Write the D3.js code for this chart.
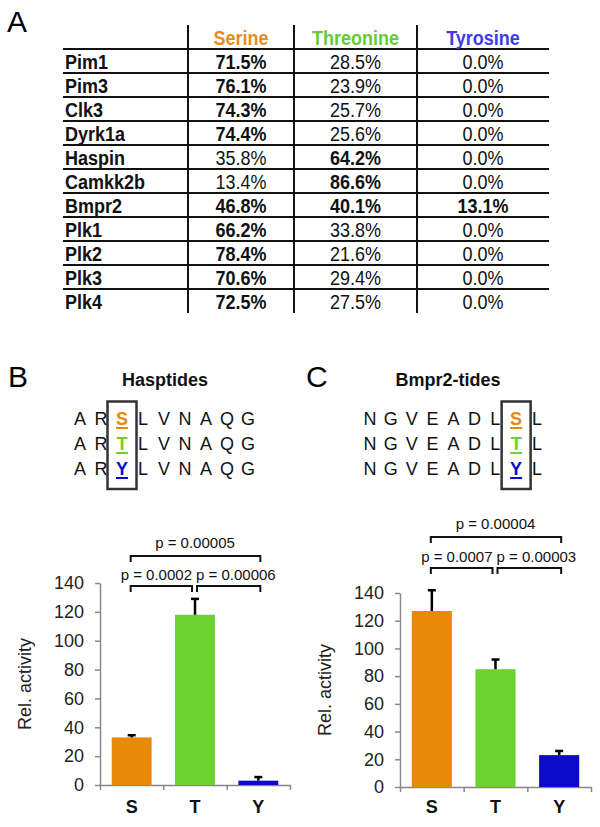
<!DOCTYPE html>
<html><head><meta charset="utf-8">
<script src="https://cdn.jsdelivr.net/npm/d3@7"></script>
<style>
body{margin:0;background:#fff;}
svg text{font-family:"Liberation Sans",Arial,sans-serif;}
</style></head>
<body>
<svg id="c" width="600" height="827"></svg>
<script>
// ---------- DATA ----------
const kinases = ["Pim1","Pim3","Clk3","Dyrk1a","Haspin","Camkk2b","Bmpr2","Plk1","Plk2","Plk3","Plk4"];
const residues = ["Serine","Threonine","Tyrosine"];
const serinePct    = [71.5,76.1,74.3,74.4,35.8,13.4,46.8,66.2,78.4,70.6,72.5];
const threoninePct = [28.5,23.9,25.7,25.6,64.2,86.6,40.1,33.8,21.6,29.4,27.5];
const tyrosinePct  = [0.0,0.0,0.0,0.0,0.0,0.0,13.1,0.0,0.0,0.0,0.0];
const serineBold    = [1,1,1,1,0,0,1,1,1,1,1];
const threonineBold = [0,0,0,0,1,1,1,0,0,0,0];
const tyrosineBold  = [0,0,0,0,0,0,1,0,0,0,0];

const peptideCats = ["S","T","Y"];
const hasptideSeq = ["A","R","*","L","V","N","A","Q","G"];
const bmpr2Seq    = ["N","G","V","E","A","D","L","*","L"];
const hasptideMean = [33, 118, 3];
const hasptideErr  = [34.5, 129, 5.5];
const bmpr2Mean = [127, 85, 23];
const bmpr2Err  = [142, 92, 26];
const yTicks = [0,20,40,60,80,100,120,140];
const hasptideP = ["p = 0.0002","p = 0.00006","p = 0.00005"];
const bmpr2P    = ["p = 0.0007","p = 0.00003","p = 0.00004"];

// ---------- STYLE ----------
const headerColors = ["#EA8A1E","#66CC33","#3C3CEA"];
const barColors = ["#E8890A","#6CD232","#0C0CC8"];
const F = '"Liberation Sans",Arial,sans-serif';

const svg = d3.select("#c");

// ---------- PANEL A: table ----------
const gA = svg.append("g");
gA.append("text").attr("x",7).attr("y",32).attr("font-size",30).text("A");
const rowY = d3.scaleBand().domain(kinases).range([49,313]);
const colX = d3.scaleOrdinal().domain(residues).range([241,355.5,483]);
const colData = [serinePct, threoninePct, tyrosinePct];
const colBold = [serineBold, threonineBold, tyrosineBold];

[188,294,417].forEach(x=>gA.append("line").attr("x1",x).attr("x2",x).attr("y1",25).attr("y2",313)
  .attr("stroke","#111").attr("stroke-width",2));
const hl = [49].concat(kinases.slice(1).map(k=>rowY(k)));
hl.forEach(y=>gA.append("line").attr("x1",63).attr("x2",549).attr("y1",y).attr("y2",y)
  .attr("stroke","#111").attr("stroke-width",2));
gA.selectAll("text.h").data(residues).join("text").attr("class","h")
  .attr("transform",d=>`translate(${colX(d)},45) scale(1,1.08)`).attr("text-anchor","middle")
  .attr("font-size",18).attr("font-weight","bold")
  .attr("fill",(d,i)=>headerColors[i]).text(d=>d);
gA.selectAll("text.k").data(kinases).join("text").attr("class","k")
  .attr("transform",d=>`translate(65,${rowY(d)+20}) scale(1,1.08)`).attr("font-size",18).attr("font-weight","bold")
  .attr("fill","#111").text(d=>d);
residues.forEach((r,ci)=>{
  gA.selectAll("text.v"+ci).data(kinases).join("text").attr("class","v"+ci)
    .attr("transform",d=>`translate(${colX(r)},${rowY(d)+20}) scale(1,1.08)`).attr("text-anchor","middle")
    .attr("font-size",18).attr("font-weight",(d,i)=>colBold[ci][i]?"bold":"normal")
    .attr("fill","#111").text((d,i)=>colData[ci][i].toFixed(1)+"%");
});

// ---------- PANELS B & C ----------
function panel(opt){
  const g = svg.append("g");
  g.append("text").attr("x",opt.labelX).attr("y",387).attr("font-size",30).text(opt.label);
  g.append("text").attr("x",opt.titleX).attr("y",386).attr("text-anchor","middle")
    .attr("font-size",18).attr("font-weight","bold").attr("fill","#111").text(opt.title);
  const sx = d3.scalePoint().domain(d3.range(opt.seq.length)).range(opt.seqRange);
  const rowsY = [425,450,475];
  const starIdx = opt.seq.indexOf("*");
  peptideCats.forEach((c,ri)=>{
    opt.seq.forEach((ch,i)=>{
      const isStar = ch==="*";
      g.append("text").attr("x",sx(i)).attr("y",rowsY[ri]).attr("text-anchor","middle")
        .attr("font-size",18).attr("font-weight",isStar?"bold":"normal")
        .attr("fill",isStar?barColors[ri]:"#111").text(isStar?c:ch);
      if(isStar){
        g.append("line").attr("x1",sx(i)-6).attr("x2",sx(i)+6)
          .attr("y1",rowsY[ri]+3).attr("y2",rowsY[ri]+3)
          .attr("stroke",barColors[ri]).attr("stroke-width",2);
      }
    });
  });
  const bx = sx(starIdx);
  g.append("rect").attr("x",bx-14.5).attr("y",401.5).attr("width",29).attr("height",87.5)
    .attr("fill","none").attr("stroke","#333").attr("stroke-width",2.5);

  const x = d3.scaleBand().domain(peptideCats).range([opt.x0,opt.x1]).paddingInner(0.37).paddingOuter(0.185);
  const y = d3.scaleLinear().domain([0,140]).range([opt.y0,opt.yTop]);
  const yAx = g.append("g").attr("transform",`translate(${opt.x0},0)`)
    .call(d3.axisLeft(y).tickValues(yTicks).tickSize(5).tickSizeOuter(0).tickPadding(11));
  yAx.select(".domain").attr("stroke","#888").attr("stroke-width",1.5);
  yAx.selectAll(".tick line").attr("stroke","#888").attr("stroke-width",1.5);
  yAx.selectAll(".tick text").attr("font-size",18).attr("fill","#222").attr("font-family",F);
  const xl = d3.scaleLinear().domain([0,3]).range([opt.x0,opt.x1]);
  const xAx = g.append("g").attr("transform",`translate(0,${opt.y0})`)
    .call(d3.axisBottom(xl).tickValues([0,1,2,3]).tickSize(5).tickSizeOuter(0).tickFormat(""));
  xAx.select(".domain").attr("stroke","#888").attr("stroke-width",1.5);
  xAx.selectAll(".tick line").attr("stroke","#888").attr("stroke-width",1.5);

  g.selectAll("rect.bar").data(peptideCats).join("rect").attr("class","bar")
    .attr("x",d=>x(d)).attr("width",x.bandwidth())
    .attr("y",(d,i)=>y(opt.mean[i])).attr("height",(d,i)=>y(0)-y(opt.mean[i]))
    .attr("fill",(d,i)=>barColors[i]);
  peptideCats.forEach((c,i)=>{
    const cx = x(c)+x.bandwidth()/2;
    g.append("line").attr("x1",cx).attr("x2",cx).attr("y1",y(opt.mean[i])).attr("y2",y(opt.err[i]))
      .attr("stroke","#000").attr("stroke-width",2.5);
    g.append("line").attr("x1",cx-4).attr("x2",cx+4).attr("y1",y(opt.err[i])).attr("y2",y(opt.err[i]))
      .attr("stroke","#000").attr("stroke-width",2.5);
  });
  g.selectAll("text.xl").data(peptideCats).join("text").attr("class","xl")
    .attr("x",d=>x(d)+x.bandwidth()/2).attr("y",813).attr("text-anchor","middle")
    .attr("font-size",18).attr("font-weight","bold").attr("fill","#111").text(d=>d);
  g.append("text").attr("transform",`translate(${opt.x0-69},${(opt.y0+opt.yTop)/2}) rotate(-90)`)
    .attr("text-anchor","middle").attr("font-size",18).attr("fill","#222").text("Rel. activity");

  const cxs = peptideCats.map(c=>x(c)+x.bandwidth()/2);
  function bracket(xa,xb,yy){
    g.append("path").attr("d",`M${xa},${yy+6}V${yy}H${xb}V${yy+6}`)
      .attr("fill","none").attr("stroke","#111").attr("stroke-width",2);
  }
  bracket(cxs[0]-1, cxs[1]-3, opt.lowY);
  bracket(cxs[1]+2, cxs[2]+2, opt.lowY);
  bracket(cxs[0]-1, cxs[2]+2, opt.highY);
  g.append("text").attr("x",cxs[1]-3).attr("y",opt.lowY-6).attr("text-anchor","end")
    .attr("font-size",15).attr("fill","#111").text(opt.p[0]);
  g.append("text").attr("x",cxs[1]+1).attr("y",opt.lowY-6).attr("text-anchor","start")
    .attr("font-size",15).attr("fill","#111").text(opt.p[1]);
  g.append("text").attr("x",(cxs[0]+cxs[2])/2).attr("y",opt.highY-8).attr("text-anchor","middle")
    .attr("font-size",15).attr("fill","#111").text(opt.p[2]);
}

panel({label:"B",labelX:8,title:"Hasptides",titleX:165,seq:hasptideSeq,seqRange:[80,248],
  x0:100,x1:290,y0:785,yTop:583,mean:hasptideMean,err:hasptideErr,p:hasptideP,lowY:586,highY:556});
panel({label:"C",labelX:306,title:"Bmpr2-tides",titleX:448,seq:bmpr2Seq,seqRange:[370,537],
  x0:400,x1:591,y0:787,yTop:593,mean:bmpr2Mean,err:bmpr2Err,p:bmpr2P,lowY:568,highY:537});
</script>
</body></html>
